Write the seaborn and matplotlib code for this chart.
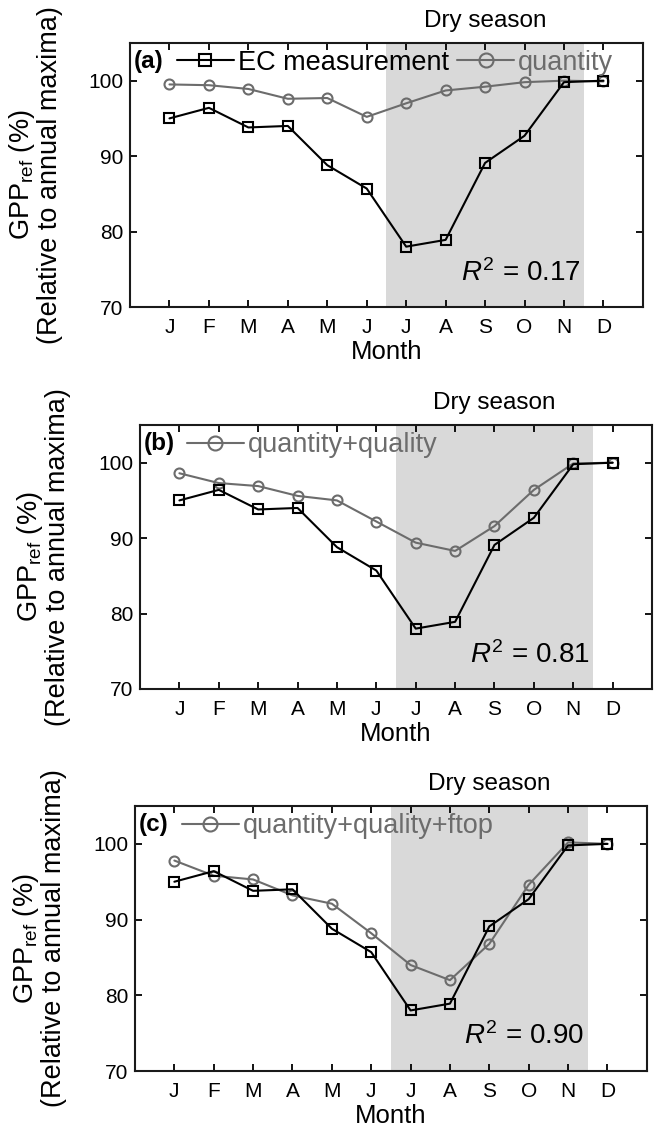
import matplotlib.pyplot as plt
import seaborn as sns
import pandas as pd

# monthly GPP_ref relative to annual maxima (%)
months = ["J", "F", "M", "A", "M", "J", "J", "A", "S", "O", "N", "D"]
month_num = list(range(1, 13))
ec = [95.0, 96.4, 93.8, 94.0, 88.8, 85.7, 78.0, 78.9, 89.1, 92.7, 99.8, 100.0]
quantity = [99.5, 99.4, 98.9, 97.6, 97.7, 95.2, 97.0, 98.7, 99.2, 99.8, 100.0, 99.9]
quantity_quality = [98.6, 97.3, 96.9, 95.6, 95.0, 92.2, 89.4, 88.3, 91.6, 96.4, 99.9, 100.0]
quantity_quality_ftop = [97.8, 95.8, 95.3, 93.2, 92.1, 88.2, 84.0, 82.0, 86.8, 94.6, 100.2, 100.0]
model_labels = ["quantity", "quantity+quality", "quantity+quality+ftop"]
panel_tags = ["(a)", "(b)", "(c)"]
r2_values = ["0.17", "0.81", "0.90"]
dry_start, dry_end = 6.5, 11.5

sns.set_theme(style="ticks")
plt.rcParams["font.family"] = ["Liberation Sans", "DejaVu Sans"]
plt.rcParams["text.color"] = "black"
plt.rcParams["axes.labelcolor"] = "black"
plt.rcParams["mathtext.fontset"] = "custom"
plt.rcParams["mathtext.rm"] = "Liberation Sans"
plt.rcParams["mathtext.it"] = "Liberation Sans:italic"

fig = plt.figure(figsize=(6.54, 11.3), dpi=100)
boxes = [
    [0.1988, 0.7283, 0.7842, 0.2337],
    [0.2141, 0.3903, 0.7829, 0.2336],
    [0.2064, 0.0522, 0.7826, 0.2345],
]
# right edge of the y label block, in pixels from the left
ylabel_x = [63, 71, 67]
models = [quantity, quantity_quality, quantity_quality_ftop]
ec_col = "black"
mod_col = "#6c6c6c"

for i, box in enumerate(boxes):
    ax = fig.add_axes(box)
    ax.axvspan(dry_start, dry_end, color="#d9d9d9", lw=0, zorder=0)
    df = pd.DataFrame({"month": month_num, "ec": ec, "model": models[i]})
    sns.lineplot(data=df, x="month", y="model", ax=ax, color=mod_col, lw=1.5,
                 marker="o", markersize=7.2, markerfacecolor="none",
                 markeredgecolor=mod_col, markeredgewidth=1.5,
                 label=model_labels[i], zorder=3)
    sns.lineplot(data=df, x="month", y="ec", ax=ax, color=ec_col, lw=1.5,
                 marker="s", markersize=6.5, markerfacecolor="none",
                 markeredgecolor=ec_col, markeredgewidth=1.5,
                 label="EC measurement", zorder=4)

    ax.set_xlim(0, 13)
    ax.set_ylim(70, 105)
    ax.set_xticks(month_num)
    ax.set_xticklabels(months)
    ax.set_yticks([70, 80, 90, 100])
    ax.tick_params(direction="in", length=5, width=1.3, top=True, right=True,
                   labelsize=15, pad=5, colors="black")
    ax.tick_params(axis="x", pad=8)
    for sp in ax.spines.values():
        sp.set_linewidth(1.5)
        sp.set_color("#1a1a1a")
    ax.set_xlabel("Month", fontsize=18.5, labelpad=2)
    ax.set_ylabel("GPP$_{\\rm ref}$ (%)\n(Relative to annual maxima)",
                  fontsize=19.5, linespacing=1.0)
    ax.yaxis.set_label_coords(ylabel_x[i] / 654, box[1] + box[3] / 2,
                              transform=fig.transFigure)

    handles, labels = ax.get_legend_handles_labels()
    order = [1, 0] if i == 0 else [0]
    leg = ax.legend([handles[k] for k in order], [labels[k] for k in order],
                    loc="upper left", bbox_to_anchor=(0.06, 1.035), ncol=2,
                    frameon=False, fontsize=19.5, handlelength=2.1, handletextpad=0.15,
                    columnspacing=0.3, markerscale=1.4, borderaxespad=0.2)
    for t in leg.get_texts():
        t.set_color(ec_col if t.get_text() == "EC measurement" else mod_col)

    ax.text(0.008, 0.975, panel_tags[i], transform=ax.transAxes, ha="left", va="top",
            fontsize=17.5, fontweight="bold")
    ax.text(0.878, 0.13, "$R^2$ = " + r2_values[i], transform=ax.transAxes,
            ha="right", va="center", fontsize=20)
    ax.text(9.0, 106.4, "Dry season", ha="center", va="bottom", fontsize=17.5,
            clip_on=False)

fig.savefig("out.png", dpi=100)
